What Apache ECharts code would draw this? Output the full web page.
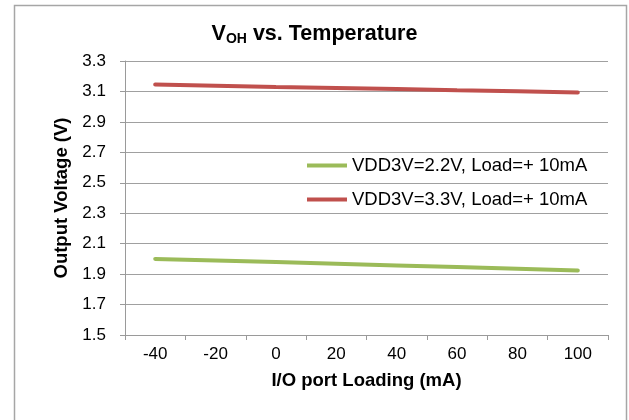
<!DOCTYPE html>
<html>
<head>
<meta charset="utf-8">
<script src="https://cdn.jsdelivr.net/npm/echarts@6/dist/echarts.min.js"></script>
<style>
  html, body { margin: 0; padding: 0; background: #fff; }
  #chart { width: 629px; height: 420px; }
</style>
</head>
<body>
<div id="chart"></div>
<script>
// I/O port loading categories and output-voltage readings
const categories = ['-40', '-20', '0', '20', '40', '60', '80', '100'];
const vdd22 = [2.000, 1.990, 1.979, 1.968, 1.957, 1.946, 1.935, 1.924];
const vdd33 = [3.146, 3.138, 3.130, 3.123, 3.116, 3.108, 3.101, 3.093];
const seriesNames = ['VDD3V=2.2V, Load=+ 10mA', 'VDD3V=3.3V, Load=+ 10mA'];

const FONT = '"Liberation Sans", Arial, sans-serif';
const chart = echarts.init(document.getElementById('chart'));

chart.setOption({
  animation: false,
  backgroundColor: '#fff',
  graphic: [{
    type: 'rect',
    shape: { x: 14.5, y: 5.5, width: 612, height: 430 },
    style: { fill: 'none', stroke: '#A6A6A6', lineWidth: 1.5 },
    silent: true
  }],
  title: {
    text: '{v|V}{sub|OH}{v| vs. Temperature}',
    left: 'center',
    top: 18,
    textStyle: {
      rich: {
        v: { fontFamily: FONT, fontSize: 21.5, fontWeight: 'bold', color: '#000' },
        sub: { fontFamily: FONT, fontSize: 14, fontWeight: 'bold', color: '#000', verticalAlign: 'bottom', padding: [9, 0, 0, 0] }
      }
    }
  },
  legend: {
    orient: 'vertical',
    left: 302,
    top: 151,
    itemWidth: 40,
    itemHeight: 4,
    itemGap: 15,
    icon: 'rect',
    textStyle: { fontFamily: FONT, fontSize: 18.5, color: '#000' },
    data: seriesNames
  },
  grid: { left: 125, right: 21, top: 61, bottom: 85 },
  xAxis: {
    type: 'category',
    data: categories,
    boundaryGap: true,
    name: 'I/O port Loading (mA)',
    nameLocation: 'middle',
    nameGap: 36,
    nameTextStyle: { fontFamily: FONT, fontSize: 18.5, fontWeight: 'bold', color: '#000' },
    axisLine: { lineStyle: { color: '#9A9A9A', width: 1 } },
    axisTick: { show: true, length: 5, lineStyle: { color: '#9A9A9A' } },
    axisLabel: { fontFamily: FONT, fontSize: 17, color: '#000', margin: 11 },
    splitLine: { show: false }
  },
  yAxis: {
    type: 'value',
    min: 1.5,
    max: 3.3,
    interval: 0.2,
    name: 'Output Voltage (V)',
    nameLocation: 'middle',
    nameGap: 54,
    nameRotate: 90,
    nameTextStyle: { fontFamily: FONT, fontSize: 18.5, fontWeight: 'bold', color: '#000' },
    axisLine: { show: true, lineStyle: { color: '#9A9A9A', width: 1 } },
    axisTick: { show: true, length: 5, lineStyle: { color: '#9A9A9A' } },
    axisLabel: {
      fontFamily: FONT, fontSize: 17, color: '#000', margin: 19,
      formatter: v => v.toFixed(1)
    },
    splitLine: { show: true, lineStyle: { color: '#A0A0A0', width: 1 } }
  },
  series: [
    {
      name: seriesNames[0],
      type: 'line',
      data: vdd22,
      symbol: 'none',
      lineStyle: { color: '#9BBB59', width: 4, cap: 'round' },
      itemStyle: { color: '#9BBB59' }
    },
    {
      name: seriesNames[1],
      type: 'line',
      data: vdd33,
      symbol: 'none',
      lineStyle: { color: '#C0504D', width: 4, cap: 'round' },
      itemStyle: { color: '#C0504D' }
    }
  ]
});
</script>
</body>
</html>
